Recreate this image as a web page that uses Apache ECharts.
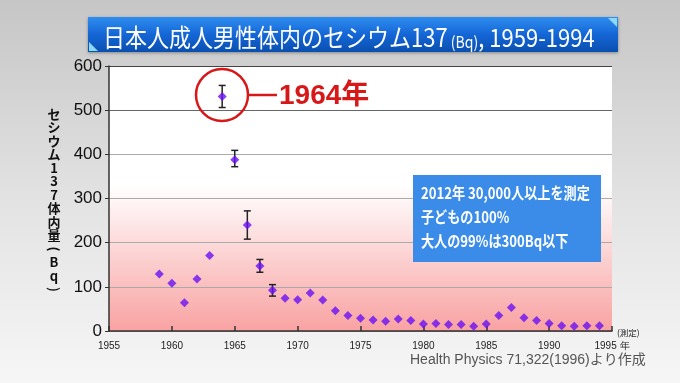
<!DOCTYPE html>
<html><head><meta charset="utf-8">
<script src="https://cdn.jsdelivr.net/npm/echarts@6/dist/echarts.min.js"></script>
<style>html,body{margin:0;padding:0;}#c{width:680px;height:383px;}</style>
</head><body><div id="c"></div>
<script>
const years = [1959,1960,1961,1962,1963,1964,1965,1966,1967,1968,1969,1970,1971,1972,1973,1974,1975,1976,1977,1978,1979,1980,1981,1982,1983,1984,1985,1986,1987,1988,1989,1990,1991,1992,1993,1994];
const cesium = [129,108,64,118,171,531,388,240,147,92,74,71,86,70,46,35,29,25,22,27,24,16,17,15,15,11,16,35,53,30,24,17,12,11,12,12];
const errYears = [1964,1965,1966,1967,1968];
const errLow  = [506,372,208,133,79];
const errHigh = [556,409,272,162,105];
const yTicks = [0,100,200,300,400,500,600];
const xTicks = [1955,1960,1965,1970,1975,1980,1985,1990,1995];
const titleText = '日本人成人男性体内のセシウム137';
const yName = ['セ','シ','ウ','ム','1','3','7','体','内','量','(','B','q',')'];

const chart = echarts.init(document.getElementById('c'));
const errData = errYears.map((y,i)=>[y,errLow[i],errHigh[i]]);

const yNameGraphics = yName.map((ch,i)=>{
  const isParen = ch==='(' || ch===')';
  return {type:'text',x:54,y:114+i*13.5,z:8,rotation:isParen?-Math.PI/2:0,
    style:{text:ch,fontSize:13,fontWeight:'bold',fill:'#111',
      fontFamily:'Noto Sans CJK JP',align:'center',verticalAlign:'middle'}};
});

chart.setOption({
  animation:false,
  backgroundColor:{type:'linear',x:0,y:0,x2:0,y2:1,colorStops:[{offset:0,color:'#c6c6c6'},{offset:0.55,color:'#e4e4e4'},{offset:1,color:'#f6f6f6'}]},
  grid:{left:109,right:68,top:66,bottom:52,show:true,borderWidth:0,
    backgroundColor:{type:'linear',x:0,y:0,x2:0,y2:1,colorStops:[{offset:0,color:'#ffffff'},{offset:0.45,color:'#ffffff'},{offset:1,color:'#f9a2a2'}]}},
  xAxis:{type:'value',min:1955,max:1995,interval:5,
    axisLine:{show:true,lineStyle:{color:'#333',width:1.5}},
    axisTick:{show:true,inside:true,length:5,lineStyle:{color:'#333',width:1.5}},
    splitLine:{show:false},
    axisLabel:{fontSize:10,color:'#222',margin:10,fontFamily:'Liberation Sans',
      formatter:v=> xTicks.includes(v) ? (v===1995? v+' 年' : String(v)) : ''}},
  yAxis:{type:'value',min:0,max:600,interval:100,
    axisLine:{show:true,lineStyle:{color:'#333',width:1.5}},
    axisTick:{show:true,length:4,lineStyle:{color:'#333'}},
    splitLine:{show:true,lineStyle:{color:['#999','#aaa','#aaa','#aaa','#aaa','#666','#444'],width:1}},
    axisLabel:{fontSize:17,color:'#111',margin:7,fontFamily:'Liberation Sans',
      formatter:v=> yTicks.includes(v)? String(v):''}},
  series:[
    {type:'custom',data:errData,z:3,
     renderItem:(params,api)=>{
       const x=api.value(0);
       const lo=api.coord([x,api.value(1)]);
       const hi=api.coord([x,api.value(2)]);
       const w=3.5;
       const st={stroke:'#222',lineWidth:1.5};
       return {type:'group',children:[
         {type:'line',shape:{x1:lo[0],y1:lo[1],x2:hi[0],y2:hi[1]},style:st},
         {type:'line',shape:{x1:lo[0]-w,y1:lo[1],x2:lo[0]+w,y2:lo[1]},style:st},
         {type:'line',shape:{x1:hi[0]-w,y1:hi[1],x2:hi[0]+w,y2:hi[1]},style:st}
       ]};
     }},
    {type:'scatter',data:years.map((y,i)=>[y,cesium[i]]),symbol:'diamond',symbolSize:9,z:4,
     itemStyle:{color:'#6a10f5'}}
  ],
  graphic:[
    {type:'rect',shape:{x:88,y:17,width:530,height:35},z:10,
     style:{fill:{type:'linear',x:0,y:0,x2:0,y2:1,colorStops:[{offset:0,color:'#2f8ef0'},{offset:0.5,color:'#1466d6'},{offset:1,color:'#0a4fb0'}]},
       shadowBlur:3,shadowColor:'rgba(0,0,0,0.35)',shadowOffsetY:1}},
    {type:'polygon',shape:{points:[[89,51],[89,42],[98,51]]},z:11,style:{fill:'#8fd8f5'}},
    {type:'polygon',shape:{points:[[617,18],[608,18],[617,27]]},z:11,style:{fill:'#8fd8f5'}},
    {type:'text',x:103,y:35,z:12,scaleX:0.88,style:{
      text:'{a|'+titleText+'}{b| (Bq)}{a|, 1959-1994}',
      verticalAlign:'middle',
      rich:{a:{fontSize:25,lineHeight:30,fill:'#fff',fontFamily:'Noto Sans CJK JP',verticalAlign:'bottom'},
            b:{fontSize:16,lineHeight:24,fill:'#fff',fontFamily:'Noto Sans CJK JP',verticalAlign:'bottom'}}}},
    {type:'circle',shape:{cx:222,cy:95,r:26},z:8,style:{fill:'none',stroke:'#d81818',lineWidth:2.5}},
    {type:'line',shape:{x1:248,y1:95,x2:277,y2:95},z:8,style:{stroke:'#d81818',lineWidth:2.5}},
    {type:'text',x:279,y:96,z:8,style:{text:'1964年',fontSize:28,fontWeight:'bold',fill:'#d81818',
      fontFamily:'Liberation Sans, Noto Sans CJK JP',verticalAlign:'middle'}},
    {type:'rect',shape:{x:413,y:175,width:188,height:87},z:8,style:{fill:'#3a8ce8'}},
    {type:'text',x:421,y:181,z:9,scaleX:0.82,style:{text:'2012年 30,000人以上を測定\n子どもの100%\n大人の99%は300Bq以下',
      fontSize:16,lineHeight:24,fontWeight:'bold',fill:'#fff',fontFamily:'Noto Sans CJK JP'}},
    ...yNameGraphics,
    {type:'text',x:617,y:329,z:8,style:{text:'(測定)',fontSize:8.5,fill:'#222',fontFamily:'Noto Sans CJK JP'}},
    {type:'text',x:410,y:360,z:8,style:{text:'Health Physics 71,322(1996)より作成',fontSize:14,fill:'#555',
      fontFamily:'Liberation Sans, Noto Sans CJK JP',verticalAlign:'middle'}}
  ]
});
</script></body></html>
